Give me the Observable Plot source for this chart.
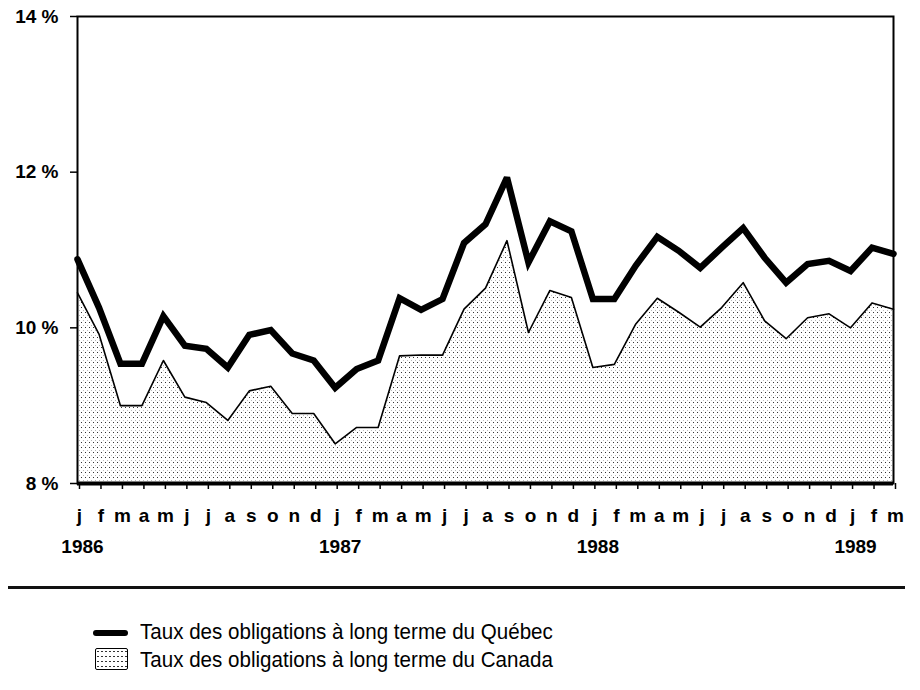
<!DOCTYPE html>
<html><head><meta charset="utf-8">
<script src="https://cdn.jsdelivr.net/npm/d3@7"></script>
<script src="https://cdn.jsdelivr.net/npm/@observablehq/plot@0.6"></script>
<style>
body{margin:0;background:#fff;font-family:"Liberation Sans",Arial,Helvetica,sans-serif;color:#000;}
#chart{position:absolute;left:0;top:0;}
.sep{position:absolute;left:8px;width:897px;top:586px;height:0;border-top:3px solid #111;}
.leg{position:absolute;left:93px;font-size:22px;line-height:24px;white-space:nowrap;}
.leg .ln{position:absolute;left:0;top:10px;width:35px;height:6px;background:#000;border-radius:3px;}
.leg .bx{position:absolute;left:2px;top:0;width:31px;height:20px;border:1.5px solid #000;border-radius:2px;
 background-image:radial-gradient(circle,#333 0.7px,transparent 0.9px);background-size:4px 5px;}
.leg span.t{position:absolute;left:47px;top:0;transform:scaleX(0.935);transform-origin:0 50%;}
</style></head><body>
<div id="chart"></div>
<div class="sep"></div>
<div class="leg" style="top:620px"><span class="ln"></span><span class="t">Taux des obligations à long terme du Québec</span></div>
<div class="leg" style="top:648px"><span class="bx"></span><span class="t">Taux des obligations à long terme du Canada</span></div>
<script>
const months = ["j","f","m","a","m","j","j","a","s","o","n","d",
  "j","f","m","a","m","j","j","a","s","o","n","d",
  "j","f","m","a","m","j","j","a","s","o","n","d",
  "j","f","m"];
const years = ["1986","1987","1988","1989"];
const yearIndex = [0,12,24,36];
const yTicks = [8,10,12,14];
const quebec = [10.88,10.26,9.54,9.54,10.15,9.77,9.73,9.49,9.91,9.97,9.67,9.58,
  9.23,9.47,9.58,10.38,10.23,10.37,11.09,11.33,11.93,10.84,11.37,11.24,
  10.37,10.37,10.80,11.17,10.99,10.77,11.03,11.28,10.90,10.58,10.82,10.86,
  10.73,11.03,10.95];
const canada = [10.45,9.92,9.00,9.00,9.58,9.11,9.04,8.81,9.19,9.25,8.90,8.90,
  8.51,8.72,8.72,9.64,9.65,9.65,10.24,10.51,11.12,9.94,10.48,10.39,
  9.49,9.53,10.05,10.38,10.20,10.01,10.26,10.58,10.09,9.86,10.13,10.18,
  10.00,10.32,10.24];

const data = months.map((m, i) => ({i, month: m, quebec: quebec[i], canada: canada[i]}));

const chart = Plot.plot({
  width: 920, height: 570,
  marginLeft: 77, marginRight: 27, marginTop: 16, marginBottom: 87,
  style: {fontFamily: '"Liberation Sans",Arial,Helvetica,sans-serif', background: "#fff", color: "#000"},
  x: {type: "linear", domain: [0, 38], label: null},
  y: {domain: [8, 14], label: null},
  marks: [
    Plot.areaY(data, {x: "i", y1: 8, y2: "canada", fill: "url(#dots)"}),
    Plot.lineY(data, {x: "i", y: "canada", stroke: "#000", strokeWidth: 1.6}),
    Plot.lineY(data, {x: "i", y: "quebec", stroke: "#000", strokeWidth: 6.5, strokeLinejoin: "miter", strokeMiterlimit: 3}),
    Plot.frame({stroke: "#000", strokeWidth: 2}),
    Plot.ruleY([8], {stroke: "#000", strokeWidth: 4}),
    Plot.axisY({ticks: yTicks, tickFormat: d => d + " %", tickSize: 7, tickPadding: 12, fontSize: 19, fontWeight: "bold", strokeWidth: 1.5}),
    Plot.axisX({ticks: d3.range(months.length), tickFormat: i => months[i], tickSize: 6, tickPadding: 19, fontSize: 19, fontWeight: "bold", dx: 2, strokeWidth: 1.5}),
    Plot.axisX({ticks: yearIndex, tickFormat: i => years[yearIndex.indexOf(i)], tickSize: 0, tickPadding: 56, fontSize: 19, fontWeight: "bold", dx: 5})
  ]
});

const svg = d3.select(chart);
const defs = svg.insert("defs", ":first-child");
const pat = defs.append("pattern").attr("id", "dots").attr("patternUnits", "userSpaceOnUse")
  .attr("width", 4).attr("height", 5);
pat.append("rect").attr("x", 1).attr("y", 2).attr("width", 1).attr("height", 1).attr("fill", "#333");
pat.append("rect").attr("x", 3).attr("y", 0).attr("width", 1).attr("height", 1).attr("fill", "#bbb");

document.getElementById("chart").append(chart);
</script>
</body></html>
